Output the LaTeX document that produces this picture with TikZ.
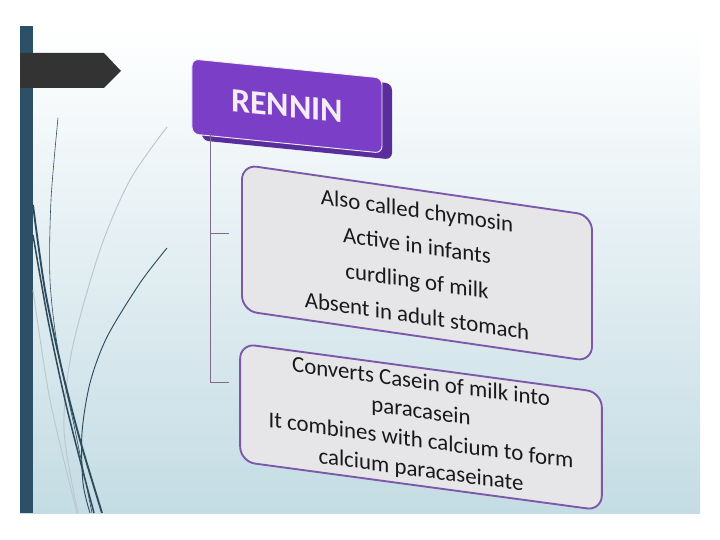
\documentclass[tikz,border=0pt]{standalone}
\usepackage{fontspec}
\setmainfont{Carlito}
\usetikzlibrary{calc}
\definecolor{barblue}{HTML}{2C5166}
\definecolor{tabgray}{HTML}{333333}
\definecolor{renninfill}{HTML}{7A3FC6}
\definecolor{renninside}{HTML}{5A2D9C}
\definecolor{renninink}{HTML}{F6ECF8}
\definecolor{itemfill}{HTML}{E6E6E8}
\definecolor{itemedge}{HTML}{7C58AA}
\definecolor{linkcol}{HTML}{7D6C8A}
\definecolor{skybot}{HTML}{C4DCE4}
\definecolor{swoosh}{HTML}{2E4B5E}
\definecolor{swooshlight}{HTML}{B9C8CE}

\begin{document}
\begin{tikzpicture}[x=0.03cm,y=-0.03cm,
  headbox/.style={draw=renninink, line width=0.8pt, fill=renninfill,
    rounded corners=0.2cm, minimum width=5.7cm, minimum height=2.25cm,
    text=renninink, font=\fontsize{29}{29}\selectfont\bfseries, transform shape},
  itembox/.style={draw=itemedge, line width=1.6pt, fill=itemfill,
    rounded corners=0.45cm, align=center, text=black!90,
    font=\fontsize{19.5}{30}\selectfont, transform shape},
  link/.style={draw=linkcol, line width=0.7pt}]
 \useasboundingbox (0,0) rectangle (720,540);
 \fill[white] (0,0) rectangle (720,540);

 % slide background, bar and tab
 \shade[top color=white, bottom color=skybot] (20,26) rectangle (700,513);
 \fill[barblue] (20,26) rectangle (33,513);
 \fill[tabgray] (20,53) -- (104,53) -- (121,71) -- (104,88) -- (20,88) -- cycle;

 % swooshes
 \draw[swooshlight, line width=0.8pt] plot[smooth] coordinates {(167,127) (130,180) (100,250) (72,350) (64,430) (78,513)};
 \draw[swooshlight, line width=0.8pt] plot[smooth] coordinates {(33,290) (50,400) (77,513)};
 \draw[swoosh, line width=0.5pt] plot[smooth] coordinates {(58,118) (51,200) (50,280) (58,350) (75,430) (92,513)};
 \draw[swoosh, line width=1.6pt] plot[smooth] coordinates {(33,205) (45,290) (62,370) (80,440) (102,513)};
 \draw[swoosh, line width=1.3pt] plot[smooth] coordinates {(33,235) (48,320) (65,400) (80,460) (94,513)};
 \draw[swoosh, line width=0.8pt] plot[smooth] coordinates {(167,248) (140,283) (107,337) (90,383) (82,433) (83,483) (90,513)};

 % title box
 \begin{scope}[shift={(287,106)}, yslant=-0.1]
  \fill[renninside, rounded corners=0.2cm] (-85,-33) rectangle (105,43);
  \node[headbox] (rennin) at (0,0) {RENNIN};
 \end{scope}

 % fact boxes
 \begin{scope}[shift={(417,263)}, yslant=-0.145]
  \node[itembox, minimum width=10.5cm, minimum height=4.38cm] (fact1) at (0,0)
   {Also called chymosin\\Active in infants\\curdling of milk\\Absent in adult stomach};
 \end{scope}
 \begin{scope}[shift={(421,427)}, yslant=-0.135]
  \node[itembox, minimum width=10.85cm, minimum height=3.54cm,
   font=\fontsize{19.5}{25}\selectfont] (fact2) at (0,0)
   {Converts Casein of milk into\\paracasein\\It combines with calcium to form\\calcium paracaseinate};
 \end{scope}

 % connectors
 \coordinate (trunk) at ([xshift=0.57cm]rennin.south west);
 \coordinate (fork1) at (229,233);
 \coordinate (fork2) at (229,382);
 \draw[link] (trunk) |- (fork2);
 \draw[link] (trunk |- fork1) -- (fork1);
\end{tikzpicture}
\end{document}
